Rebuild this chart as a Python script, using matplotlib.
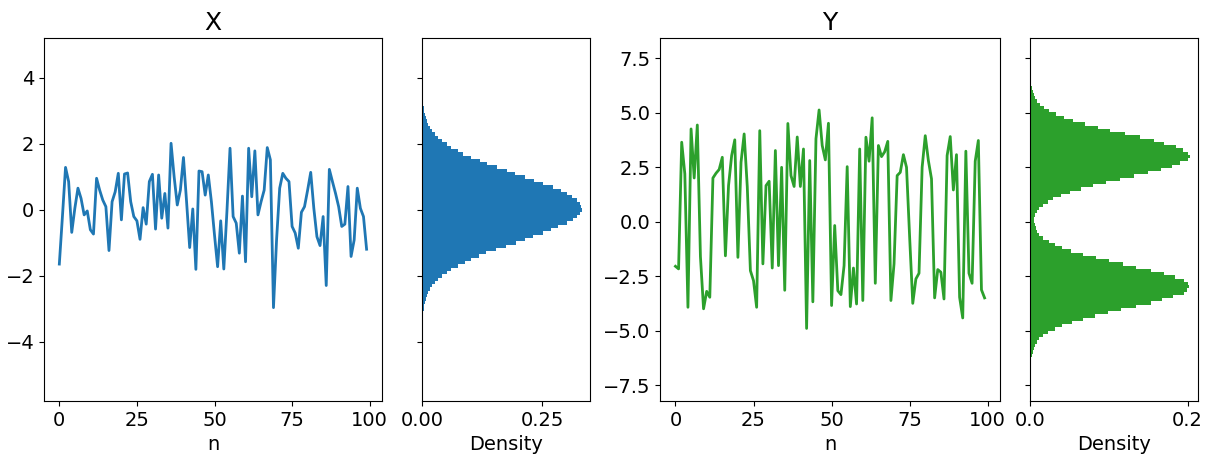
import numpy as np
import matplotlib.pyplot as plt

plt.rcParams['font.size'] = 14

# time series, 100 samples each
x_vals = [-1.64, -0.2, 1.29, 0.86, -0.68, 0.05, 0.66, 0.35, -0.15, -0.03,
          -0.6, -0.73, 0.96, 0.6, 0.3, 0.1, -1.23, 0.25, 0.55, 1.11,
          -0.3, 1.09, 1.12, 0.25, -0.2, -0.33, -0.89, 0.07, -0.43, 0.86,
          1.08, -0.58, 1.06, -0.25, 0.5, -0.55, 2.02, 1.0, 0.15, 0.6,
          1.59, 0.25, -1.14, 0.03, -1.8, 1.18, 1.16, 0.45, 1.06, 0.25,
          -0.76, -1.72, -0.33, -1.79, -0.05, 1.87, -0.2, -0.4, -1.31, 0.42,
          -1.57, 1.87, 0.4, 1.79, -0.15, 0.25, 0.6, 1.89, 1.52, -2.96,
          -0.9, 0.66, 1.11, 0.96, 0.86, -0.5, -0.7, -1.16, -0.07, 0.1,
          0.6, 1.14, 0.05, -0.81, -1.08, -0.2, -2.29, 1.23, 0.86, 0.5,
          0.1, -0.5, -0.43, 0.71, -1.41, -0.91, 0.66, 0.05, -0.2, -1.19]

y_vals = [-2.05, -2.17, 3.64, 2.19, -3.93, 4.25, 2.0, 4.43, -1.6, -4.0,
          -3.2, -3.47, 2.0, 2.22, 2.39, 2.95, -1.57, 1.65, 3.03, 3.75,
          -1.64, 2.72, 4.02, 1.6, -2.25, -2.71, -3.93, 4.17, -1.94, 1.65,
          1.85, -2.13, 3.26, -2.02, 2.49, -3.15, 4.5, 2.11, 1.61, 3.88,
          1.61, 3.33, -4.9, 2.8, -3.68, 3.8, 5.12, 3.49, 2.83, 4.51,
          -3.85, -0.18, -3.17, -3.35, -2.02, 2.52, -3.9, -2.13, -3.78, 3.33,
          -3.62, 3.87, 2.77, 4.76, -2.83, 3.49, 2.98, 3.2, 3.68, -3.62,
          -1.94, 2.11, 2.26, 3.07, 2.49, -0.72, -3.75, -2.63, -2.37, 2.49,
          3.94, 2.8, 1.96, -3.5, -2.2, -2.32, -3.55, 3.03, 3.9, 1.45,
          3.07, -3.47, -4.42, 3.23, -2.37, -2.83, 2.77, 3.72, -3.13, -3.5]

# histogram densities, listed from the top bin down
x_dens = [0.0035, 0.005, 0.007, 0.009, 0.011, 0.013, 0.017, 0.0215, 0.028, 0.034,
          0.042, 0.051, 0.061, 0.074, 0.085, 0.101, 0.12, 0.135, 0.157, 0.176,
          0.193, 0.215, 0.233, 0.251, 0.272, 0.29, 0.302, 0.313, 0.323, 0.328,
          0.331, 0.333, 0.328, 0.322, 0.315, 0.301, 0.284, 0.269, 0.251, 0.23,
          0.214, 0.195, 0.174, 0.153, 0.134, 0.118, 0.101, 0.089, 0.074, 0.061,
          0.051, 0.041, 0.034, 0.027, 0.0215, 0.016, 0.0125, 0.0105, 0.0083, 0.006,
          0.005, 0.0035, 0.003]
x_range = (-3.15, 3.15)

y_dens = [0.0025, 0.004, 0.005, 0.007, 0.009, 0.013, 0.018, 0.024, 0.033, 0.043,
          0.055, 0.07, 0.086, 0.101, 0.121, 0.14, 0.157, 0.17, 0.185, 0.194,
          0.2, 0.203, 0.2, 0.19, 0.18, 0.166, 0.15, 0.132, 0.114, 0.096,
          0.08, 0.065, 0.051, 0.039, 0.029, 0.023, 0.017, 0.012, 0.0085, 0.0063,
          0.0055, 0.0055, 0.0063, 0.0076, 0.009, 0.012, 0.017, 0.024, 0.032, 0.041,
          0.052, 0.067, 0.084, 0.1, 0.118, 0.135, 0.153, 0.17, 0.184, 0.195,
          0.2, 0.202, 0.199, 0.195, 0.181, 0.167, 0.153, 0.135, 0.116, 0.099,
          0.082, 0.067, 0.053, 0.041, 0.032, 0.023, 0.017, 0.012, 0.009, 0.007,
          0.005, 0.004, 0.003]
y_range = (-6.2, 6.2)

fig = plt.figure(figsize=(12.11, 4.57), dpi=100)
bot, hgt = 0.1225, 0.7943
ax1 = fig.add_axes([0.0363, bot, 0.2791, hgt])
ax2 = fig.add_axes([0.3485, bot, 0.1387, hgt], sharey=ax1)
ax3 = fig.add_axes([0.5450, bot, 0.2808, hgt])
ax4 = fig.add_axes([0.8505, bot, 0.1387, hgt], sharey=ax3)


def draw_pair(ax_line, ax_hist, vals, dens, rng, color, title):
    n = np.arange(len(vals))
    ax_line.plot(n, vals, color=color, lw=2)
    ax_line.set_title(title, fontsize=18)
    ax_line.set_xlabel('n')
    edges = np.linspace(rng[0], rng[1], len(dens) + 1)
    ax_hist.stairs(dens[::-1], edges, orientation='horizontal', fill=True,
                   color=color)
    ax_hist.set_xlabel('Density')
    ax_hist.tick_params(labelleft=False)


draw_pair(ax1, ax2, x_vals, x_dens, x_range, 'C0', 'X')
draw_pair(ax3, ax4, y_vals, y_dens, y_range, 'C2', 'Y')

ax1.set_ylim(-5.79, 5.21)
ax1.set_yticks([-4, -2, 0, 2, 4])
ax2.set_xticks([0, 0.25])
ax2.set_xticklabels(['0.00', '0.25'])
ax3.set_ylim(-8.23, 8.42)
ax3.set_yticks([-7.5, -5.0, -2.5, 0.0, 2.5, 5.0, 7.5])
ax4.set_xticks([0, 0.2])
ax4.set_xticklabels(['0.0', '0.2'])

fig.savefig('out.png', dpi=100)
